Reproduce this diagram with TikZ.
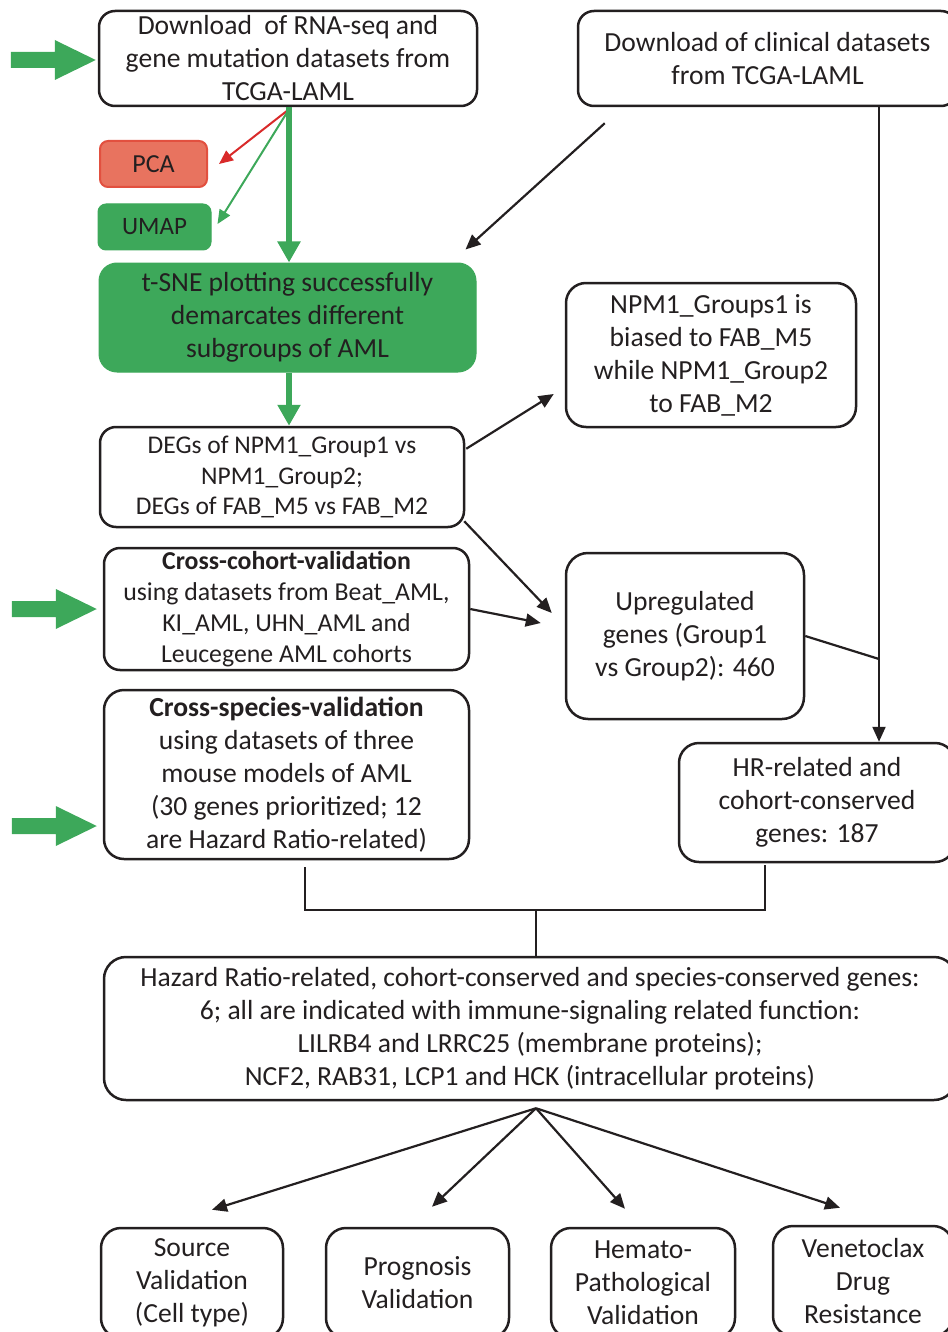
\documentclass[tikz,border=0pt]{standalone}
\usepackage{fontspec}
\setmainfont{Carlito}
\usetikzlibrary{arrows.meta,calc}
\definecolor{grn}{HTML}{3DA85A}
\definecolor{salmon}{HTML}{E8735F}
\definecolor{salmonb}{HTML}{E2503F}
\definecolor{redarr}{HTML}{D92A2A}
\definecolor{ink}{HTML}{231F20}
\newcommand{\greenblock}[1]{\fill[grn] #1 -- ++(-41,-20) -- ++(0,12) -- ++(-44,0) -- ++(0,16) -- ++(44,0) -- ++(0,12) -- cycle;}
\begin{document}
\begin{tikzpicture}[x=1pt,y=-1pt,
 box/.style={draw=ink,line width=2.5pt,rounded corners=16pt,align=center,inner sep=0pt,text=ink},
 fbig/.style={font=\fontsize{27.6}{33}\selectfont},
 fmid/.style={font=\fontsize{25.5}{30.5}\selectfont},
 conn/.style={draw=ink,line width=2.2pt,-{Triangle[length=15pt,width=13pt]}},
 plain/.style={draw=ink,line width=2.2pt},
 thickg/.style={draw=grn,line width=6pt,-{Triangle[length=21pt,width=22pt]}},
 thing/.style={draw=grn,line width=2pt,-{Triangle[length=14pt,width=12pt]}},
 thinr/.style={draw=redarr,line width=2pt,-{Triangle[length=14pt,width=12pt]}}
]
\useasboundingbox (0,0) rectangle (947,1332);

% nodes
\node[box,fbig,minimum width=378pt,minimum height=95pt] (A) at (288,58.5) {Download\ \ of RNA-seq and\\gene mutation datasets from\\TCGA-LAML};
\node[box,fbig,minimum width=379pt,minimum height=95pt] (B) at (767.5,58.5) {Download of clinical datasets\\from TCGA-LAML};
\node[box,draw=salmonb,fill=salmon,line width=2pt,rounded corners=8pt,font=\fontsize{26}{30}\selectfont,minimum width=107pt,minimum height=46pt] (P) at (153.5,164) {PCA};
\node[box,draw=grn,fill=grn,line width=1pt,rounded corners=8pt,font=\fontsize{25}{30}\selectfont,minimum width=113pt,minimum height=46pt] (U) at (154.5,227) {UMAP};
\node[box,draw=grn,fill=grn,line width=1pt,rounded corners=18pt,fbig,minimum width=377pt,minimum height=109pt] (T) at (287.5,317.5) {t-SNE plotting successfully\\demarcates different\\subgroups of AML};
\node[box,fmid,minimum width=364pt,minimum height=100pt] (D) at (282,477) {DEGs of NPM1\_Group1 vs\\NPM1\_Group2;\\DEGs of FAB\_M5 vs FAB\_M2};
\node[box,fbig,minimum width=290pt,minimum height=144pt,rounded corners=20pt] (N) at (711,355) {NPM1\_Groups1 is\\biased to FAB\_M5\\while NPM1\_Group2\\to FAB\_M2};
\node[box,font=\fontsize{25.8}{30.8}\selectfont,minimum width=365pt,minimum height=122pt] (C) at (286.5,609) {\textbf{Cross-cohort-validation}\\using datasets from Beat\_AML,\\KI\_AML, UHN\_AML and\\Leucegene AML cohorts};
\node[box,fbig,minimum width=238pt,minimum height=166pt,rounded corners=22pt] (Up) at (685,636) {Upregulated\\genes (Group1\\vs Group2): 460};
\node[box,fbig,minimum width=365pt,minimum height=169pt,rounded corners=20pt] (S) at (286.5,774.5) {\textbf{Cross-species-validation}\\using datasets of three\\mouse models of AML\\(30 genes prioritized; 12\\are Hazard Ratio-related)};
\node[box,fbig,minimum width=276pt,minimum height=119pt,rounded corners=20pt] (HR) at (817,802.5) {HR-related and\\cohort-conserved\\genes: 187};
\node[box,fbig,minimum width=852pt,minimum height=143pt,rounded corners=22pt] (Big) at (530,1028.5) {Hazard Ratio-related, cohort-conserved and species-conserved genes:\\6; all are indicated with immune-signaling related function:\\LILRB4 and LRRC25 (membrane proteins);\\NCF2, RAB31, LCP1 and HCK (intracellular proteins)};
\node[box,fbig,minimum width=182pt,minimum height=110pt,rounded corners=20pt] (O1) at (192,1283) {Source\\Validation\\(Cell type)};
\node[box,fbig,minimum width=183pt,minimum height=110pt,rounded corners=20pt] (O2) at (417.5,1283) {Prognosis\\Validation};
\node[box,fbig,minimum width=184pt,minimum height=110pt,rounded corners=20pt] (O3) at (643,1283) {Hemato-\\Pathological\\Validation};
\node[box,fbig,minimum width=180pt,minimum height=110pt,rounded corners=20pt] (O4) at (863,1281) {Venetoclax\\Drug\\Resistance};

% left green block arrows
\greenblock{($(A.west)+(-2,1.5)$)}
\greenblock{($(C.west)+(-6,0)$)}
\greenblock{($(S.west)+(-6,51.5)$)}

% top connectors
\draw[thinr] ($(A.south)+(1,2)$) -- ($(P.east)+(11,0)$);
\draw[thing] ($(A.south)+(1,2)$) -- ($(U.east)+(6,-3)$);
\draw[thickg] ($(A.south)+(1,0)$) -- ($(T.north)+(1.5,0)$);
\draw[conn] ($(B.south west)+(28,16)$) -- ($(T.north east)+(-11,-13)$);
\draw[thickg] ($(T.south)+(1.5,0)$) -- ($(D.north)+(7,0)$);

% middle connectors
\draw[conn] ($(D.north east)+(1,23)$) -- ($(N.west)+(-11,39)$);
\draw[conn] ($(D.south east)+(-1,-7)$) -- ($(Up.west)+(-13,-23)$);
\draw[conn] (C.east) -- ($(Up.west)+(-24,-13)$);
\coordinate (vx) at (879,659);
\draw[plain] (Up.east) -- (vx);
\draw[conn] (B.south -| vx) -- (HR.north -| vx);

% join
\coordinate (jl) at (305,910);
\coordinate (jr) at (765,910);
\coordinate (jm) at (536,910);
\draw[plain] ($(S.south -| jl)+(0,7)$) -- (jl) -- (jr) -- ($(HR.south -| jr)+(0,2)$);
\draw[plain] (jm) -- (Big.north -| jm);

% fan-out
\coordinate (bs) at ($(Big.south -| jm)+(0,7)$);
\draw[conn] (bs) -- ($(O1.north)+(20,-17)$);
\draw[conn] (bs) -- ($(O2.north)+(14.5,-20)$);
\draw[conn] (bs) -- ($(O3.north)+(-18,-18)$);
\draw[conn] (bs) -- ($(O4.north)+(-23,-17)$);
\end{tikzpicture}
\end{document}
